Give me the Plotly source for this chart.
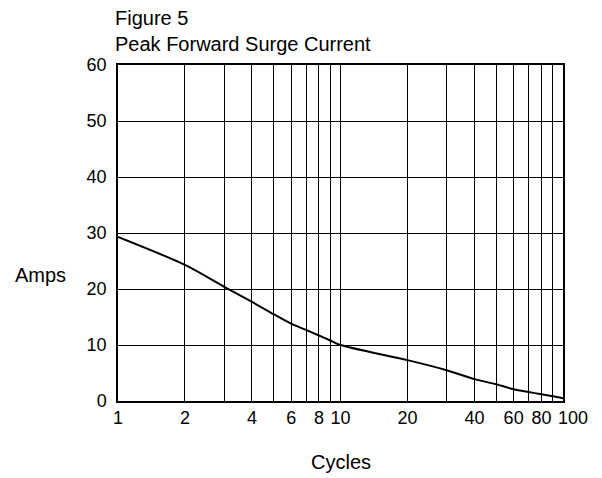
import plotly.graph_objects as go

cycles = [1, 2, 3, 4, 5, 6, 7, 8, 9, 10, 20, 30, 40, 50, 60, 70, 80, 90, 100]
amps = [29.3, 24.3, 20.4, 17.7, 15.5, 13.8, 12.7, 11.7, 10.8, 10.0,
        7.3, 5.5, 3.9, 3.0, 2.1, 1.6, 1.2, 0.85, 0.5]

grid_vals = [1, 2, 3, 4, 5, 6, 7, 8, 9, 10, 20, 30, 40, 50, 60, 70, 80, 90, 100]
grid_text = ["1", "2", "", "4", "", "6", "", "8", "", "10", "20", "", "40", "", "60", "", "80", "", ""]
last_tick = 100
last_tick_text = "100"
y_ticks = [0, 10, 20, 30, 40, 50, 60]

family = "Liberation Sans, Arial, Helvetica, sans-serif"
tick_font = dict(family=family, size=18, color="black")
label_font = dict(family=family, size=20, color="black")

fig = go.Figure()
fig.add_trace(go.Scatter(x=cycles, y=amps, mode="lines",
                         line=dict(color="black", width=2, shape="spline", smoothing=0.8),
                         showlegend=False, hoverinfo="skip"))

fig.update_layout(
    width=594, height=470,
    margin=dict(l=110, r=39, t=57, b=77, autoexpand=False),
    paper_bgcolor="white", plot_bgcolor="white",
    font=label_font,
    xaxis=dict(type="log", range=[0, 2], tickvals=grid_vals, ticktext=grid_text,
               tickangle=0, automargin=False,
               showgrid=True, gridcolor="black", gridwidth=1.2, zeroline=False,
               showline=True, linecolor="black", linewidth=1.5, mirror=True,
               ticks="", ticklabelstandoff=0, tickfont=tick_font),
    yaxis=dict(range=[0, 60], tickvals=y_ticks, automargin=False,
               showgrid=True, gridcolor="black", gridwidth=1.2, zeroline=False,
               showline=True, linecolor="black", linewidth=1.5, mirror=True,
               ticks="", ticklabelstandoff=6, tickfont=tick_font),
    annotations=[
        dict(text="Figure 5<br>Peak Forward Surge Current", xref="paper", yref="paper",
             x=0, xshift=-5, y=1, yshift=60, xanchor="left", yanchor="top", align="left",
             showarrow=False, font=label_font),
        dict(text="Amps", xref="paper", yref="paper", x=-0.175, y=0.375,
             xanchor="center", yanchor="middle", showarrow=False, font=label_font),
        dict(text="Cycles", xref="paper", yref="paper", x=0.502, y=0, yshift=-61,
             xanchor="center", yanchor="middle", showarrow=False, font=label_font),
        dict(text=last_tick_text, xref="x", yref="paper", x=2, y=0, xshift=-7, yshift=-17,
             xanchor="left", yanchor="middle", showarrow=False, font=tick_font),
    ],
)

fig.write_html("out.html")
